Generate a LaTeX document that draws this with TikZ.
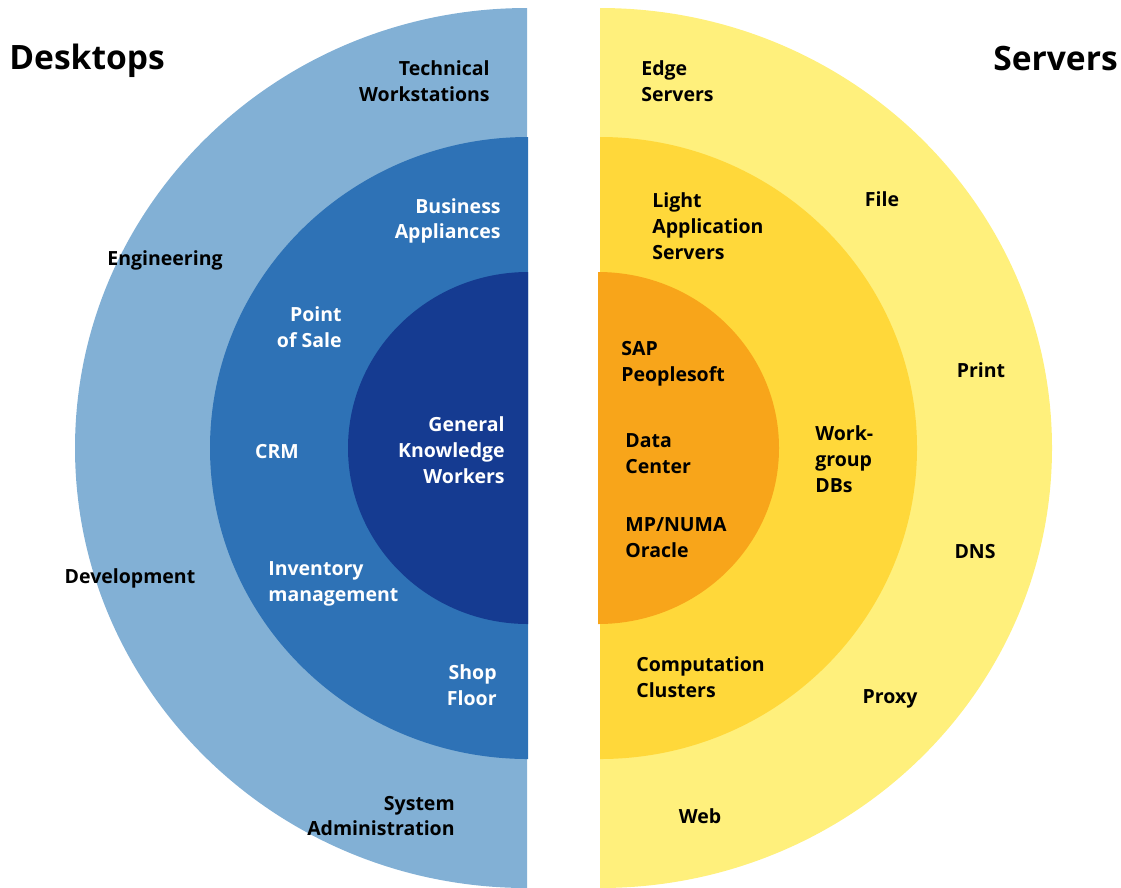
\documentclass[tikz,border=0pt]{standalone}
\usepackage{fontspec}
\setmainfont{Open Sans}
\usepackage{color}
\usepackage{tikz}

\definecolor{deskout}{RGB}{130,176,213}
\definecolor{deskmid}{RGB}{46,114,182}
\definecolor{deskin}{RGB}{21,59,145}
\definecolor{servout}{RGB}{255,240,124}
\definecolor{servmid}{RGB}{255,216,58}
\definecolor{servin}{RGB}{248,165,26}

\tikzset{
  txt/.style={font=\bfseries\fontsize{11.1}{14.7}\selectfont, inner sep=0pt},
  wtxt/.style={txt, text=white},
  head/.style={font=\bfseries\fontsize{19.1}{23}\selectfont, inner sep=0pt},
}

\begin{document}
\begin{tikzpicture}[x=0.02cm, y=-0.02cm]
\useasboundingbox (0,0) rectangle (1121,887);

% desktops half
\fill[deskout] (527,8) arc[start angle=270, end angle=90, x radius=452, y radius=440] -- cycle;
\fill[deskmid] (528,137) arc[start angle=270, end angle=90, x radius=318, y radius=311] -- cycle;
\fill[deskin] (528,272) arc[start angle=270, end angle=90, x radius=180, y radius=176] -- cycle;

\node[head, anchor=west] (desk) at (9,61) {Desktops};
\node[txt, anchor=east, align=right] (techws) at (490,81) {Technical\\Workstations};
\node[txt] (eng) at (165,260) {Engineering};
\node[txt] (dev) at (130,578) {Development};
\node[txt, anchor=east, align=right] (sysadm) at (455,816) {System\\Administration};
\node[wtxt, anchor=east, align=right] (busapp) at (501,221) {Business\\Appliances};
\node[wtxt, anchor=east, align=right] (pos) at (342,327) {Point\\of Sale};
\node[wtxt] (crm) at (277,452) {CRM};
\node[wtxt, anchor=west, align=left] (inv) at (268,584) {Inventory\\management};
\node[wtxt, anchor=east, align=right] (shop) at (497,685) {Shop\\Floor};
\node[wtxt, anchor=east, align=right] (gkw) at (505,450) {General\\Knowledge\\Workers};

%-------------------------------------
% servers half
\fill[servout] (600,8) arc[start angle=-90, end angle=90, x radius=452, y radius=440] -- cycle;
\fill[servmid] (600,137) arc[start angle=-90, end angle=90, x radius=317, y radius=311] -- cycle;
\fill[servin] (598,272) arc[start angle=-90, end angle=90, x radius=181, y radius=176] -- cycle;

\node[head, anchor=east] (serv) at (1118,59) {Servers};
\node[txt, anchor=west, align=left] (edge) at (641,81) {Edge\\Servers};
\node[txt] (file) at (882,199) {File};
\node[txt, anchor=west, align=left] (lightapp) at (652,226) {Light\\Application\\Servers};
\node[txt] (print) at (981,370) {Print};
\node[txt, anchor=west, align=left] (sap) at (621,364) {SAP\\Peoplesoft};
\node[txt, anchor=west, align=left] (wgdb) at (815,459) {Work-\\group\\DBs};
\node[txt, anchor=west, align=left] (dc) at (625,454) {Data\\Center};
\node[txt, anchor=west, align=left] (numa) at (625,538) {MP/NUMA\\Oracle};
\node[txt] (dns) at (975,552) {DNS};
\node[txt, anchor=west, align=left] (comp) at (636,677) {Computation\\Clusters};
\node[txt] (proxy) at (890,699) {Proxy};
\node[txt] (web) at (700,816) {Web};
\end{tikzpicture}
\end{document}
